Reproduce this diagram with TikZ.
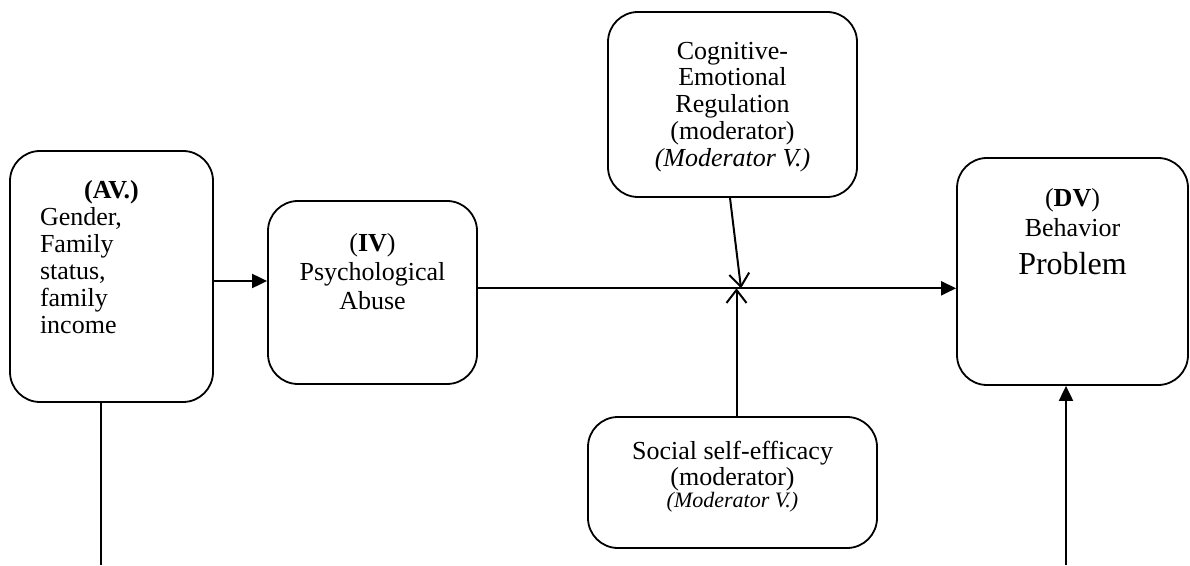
\documentclass[tikz,border=0pt]{standalone}
\usepackage{fontspec}
\setmainfont{Liberation Serif}
\usetikzlibrary{arrows.meta,positioning}

\begin{document}
\begin{tikzpicture}[
    x=1pt, y=1pt,
    var/.style={rectangle, draw, line width=1.8pt, rounded corners=30pt,
    inner sep=0pt, align=center, font=\fontsize{26}{27}\selectfont},
    arrow/.style={-{Triangle[length=15pt,width=14pt]}, line width=2pt},
    modarrow/.style={-{Straight Barb[length=13pt,width=20pt]}, line width=2pt},
    link/.style={line width=2pt}
]
\useasboundingbox (0,0) rectangle (1190,565);
\node[var, minimum width=203pt] (av) at (111.5,288.5)
    {\parbox[c][251pt][t]{143pt}{\vspace*{29pt}\centering\textbf{(AV.)}\par
    \raggedright Gender,\\Family\\status,\\family\\income}};
\node[var, minimum width=209pt] (iv) at (372.5,272.5)
    {\parbox[c][183pt][t]{200pt}{\centering\baselineskip=29pt\vspace*{32pt}%
    (\textbf{IV})\\Psychological\\Abuse}};
\node[var, minimum width=249pt] (cer) at (732.5,460.5)
    {\parbox[c][185pt][t]{240pt}{\centering\baselineskip=26.75pt\vspace*{30pt}%
    Cognitive-\\Emotional\\Regulation\\(moderator)\\\textit{(Moderator V.)}}};
\node[var, minimum width=289pt] (soc) at (732.5,82.5)
    {\parbox[c][131pt][t]{280pt}{\centering\baselineskip=26pt\vspace*{24pt}%
    Social self-efficacy\\(moderator)\\[-4pt]{\fontsize{22}{22}\selectfont\itshape (Moderator V.)}}};
\node[var, minimum width=231pt] (dv) at (1072.5,293.5)
    {\parbox[c][227pt][t]{220pt}{\centering\baselineskip=30pt\vspace*{30pt}%
    (\textbf{DV})\\Behavior\\[8pt]{\fontsize{32}{38}\selectfont Problem}}};
% connectors
\coordinate (avout) at ([yshift=-4.5pt]av.east);
\coordinate (ivout) at ([yshift=4.2pt]iv.east);
\coordinate (jn) at (741,276.7);
\coordinate (socin) at ([xshift=4pt]soc.north);
\coordinate (avfoot) at (101,0);
\coordinate (dvfoot) at (1066,0);
\draw[arrow] (avout) -- (avout -| iv.west);
\draw[arrow] (ivout) -- (ivout -| dv.west);
\draw[modarrow] ([xshift=-2.5pt]cer.south) -- (jn);
\draw[modarrow] (socin) -- (socin |- jn);
\draw[link] (av.south -| avfoot) -- (avfoot);
\draw[arrow] (dvfoot) -- (dvfoot |- dv.south);
\end{tikzpicture}
\end{document}
